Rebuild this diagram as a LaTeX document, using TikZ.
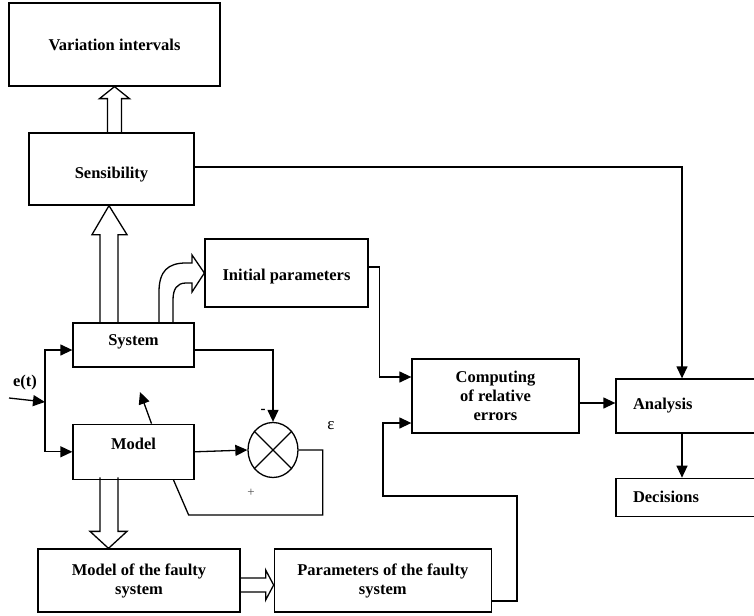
\documentclass[tikz,border=0pt]{standalone}
\usepackage{fontspec}
\setmainfont{Liberation Serif}
\usetikzlibrary{positioning,calc,shapes.geometric,arrows.meta}

\tikzset{
  block/.style={draw, line width=1.3pt, font=\bfseries\fontsize{16.5}{19}\selectfont, align=center, inner sep=0pt},
  sum/.style={draw, ellipse, line width=1.3pt, minimum width=50pt, minimum height=55pt, inner sep=0pt},
  line/.style={line width=1.3pt},
  flow/.style={line width=1.3pt, -{Triangle[length=12pt,width=11pt]}},
  hollow/.style={line width=1.3pt, line join=miter},
}

\begin{document}
\begin{tikzpicture}[x=1pt,y=-1pt]%,node distance=5cm]
  \useasboundingbox (0,0) rectangle (754,615);
  \clip (0,0) rectangle (754,615);

  \node[block, minimum width=211pt, minimum height=83pt] (node1) at (114.5,44.5) {Variation intervals};
  \node[block, minimum width=165pt, minimum height=72pt, text height=23pt] (node2) at (111.5,169) {Sensibility};
  \node[block, minimum width=121pt, minimum height=44pt, text depth=9.5pt] (node3) at (133.5,345) {System};
  \node[block, minimum width=121pt, minimum height=55pt, text depth=17pt] (node4) [below = 56pt of node3] {Model};
  \node[block, minimum width=163pt, minimum height=68pt, text height=19pt] (node5) at (286.5,273) {Initial parameters};
  \node[sum] (node6) at (273,450) {};
  \node[block, minimum width=202pt, minimum height=63pt] (node7) at (139,580.5) {Model of the faulty\\system};
  \node[block, minimum width=217pt, minimum height=63pt] (node8) [right = 33pt of node7] {Parameters of the faulty\\system};
  \node[block, minimum width=167pt, minimum height=74pt] (node9) at (495.5,396) {Computing\\of relative\\errors};
  \node[block, minimum width=144pt, minimum height=54pt, text width=110pt, align=left] (node10) at (688,406) {Analysis};
  \node[block, minimum width=144pt, minimum height=38pt, text width=110pt, align=left] (node11) [below = 44pt of node10] {Decisions};

  \node[font=\bfseries\fontsize{16.5}{19}\selectfont] (et) at (25,383) {e(t)};
  \node[font=\fontsize{17}{19}\selectfont] (eps) at (331,426) {ε};
  \node[font=\bfseries\fontsize{15}{16}\selectfont] (minus) at (263,411) {-};
  \node[font=\fontsize{13}{16}\selectfont, text=black!70] (plus) at (251,493) {+};

  \coordinate (in) at (9,398);
  \coordinate (split) at (45,402);
  \coordinate (adj) at (140,392);

  % cross in the comparator
  \draw[line] (node6.45) -- (node6.225) (node6.135) -- (node6.315);

  % hollow arrows
  \draw[hollow] ($(node1.south)+(-7,47)$) -- ++(0,-35) -- ++(-8,0) -- (node1.south) -- ++(15,12) -- ++(-8,0) -- ++(0,35);
  \draw[hollow] ($(node2.south)+(-11.5,118)$) -- ++(0,-89) -- ++(-8,0) -- ($(node2.south)+(-2.5,0)$) -- ++(18,29) -- ++(-9,0) -- ++(0,89);
  \draw[hollow] ($(node7.north)+(-39,-71)$) -- ++(0,54) -- ++(-10,0) -- ($(node7.north)+(-30.5,0)$) -- ++(18.5,-17) -- ++(-9,0) -- ++(0,-54);
  \draw[hollow] ($(node7.east)+(0,-2.5)$) -- ++(25,0) -- ++(0,-8) -- ($(node8.west)+(0,4.5)$) -- ++(-8,15) -- ++(0,-8) -- ++(-25,0);
  \draw[hollow] ($(node3.north)+(25.5,0)$) -- (159,292) .. controls (159,271) and (168,263) .. (186,263) -- (192,263) -- (192,255)
    -- (node5.west) -- (192,292) -- (192,283) -- (186,283) .. controls (177,283) and (173,289) .. (173,300) -- ($(node3.north)+(39.5,0)$);

  \draw[flow] (in) -- (split);
  \draw[flow] (split) |- ($(node3.west)+(0,5)$);
  \draw[flow] (split) |- (node4.west);

  \draw[flow] ($(node3.east)+(0,5)$) -| (node6.north);
  \draw[flow] (node4.east) -- (node6.west);
  \draw[line] (node6.east) -- ++(24,0) -- ++(0,65) -- ++(-134,0) -- ($(node4.south)+(40,0)$);
  \draw[flow] ($(node4.north)+(18,0)$) -- (adj);

  \draw[flow] ($(node5.east)+(0,-6)$) -- ++(11,0) |- ($(node9.west)+(0,-19)$);
  \draw[flow] ($(node8.east)+(0,20.5)$) -- ++(25,0) -- ++(0,-105) -- ++(-134,0) |- ($(node9.west)+(0,27)$);
  \draw[flow] (node2.east |- 0,167) -| ($(node10.north)+(-6,0)$);
  \draw[flow] (node9.east |- 0,403) -- (node10.west |- 0,403);
  \draw[flow] ($(node10.south)+(-6,0)$) -- ($(node11.north)+(-6,0)$);

\end{tikzpicture}
\end{document}
